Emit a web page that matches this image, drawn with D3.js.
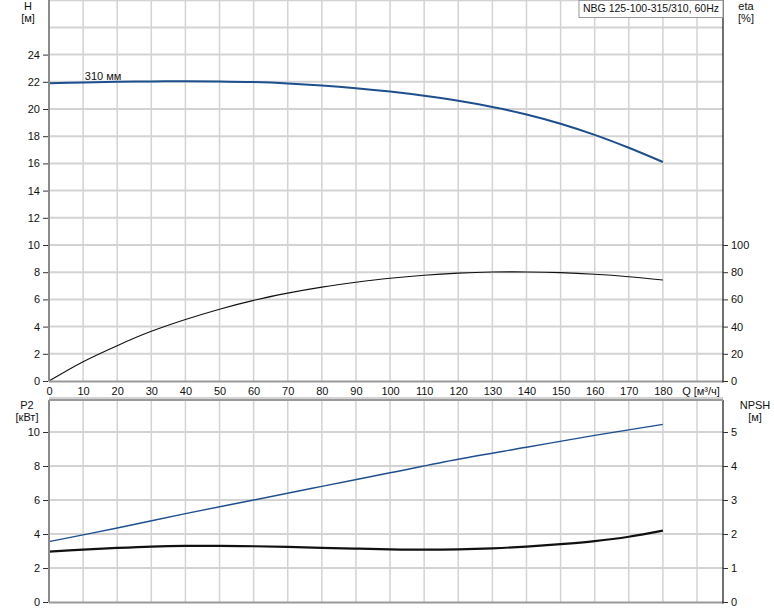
<!DOCTYPE html>
<html><head><meta charset="utf-8">
<script src="https://cdn.jsdelivr.net/npm/d3@7"></script>
<style>
html,body{margin:0;padding:0;background:#fff;}
svg text{font-family:"Liberation Sans",Arial,sans-serif;font-size:11px;fill:#111;}
</style></head>
<body><svg id="c" width="774" height="611"></svg>
<script>
// ---- data ----
const qTicks = [0,10,20,30,40,50,60,70,80,90,100,110,120,130,140,150,160,170,180];
const headQ = [0,10,20,30,40,50,60,70,80,90,100,110,120,130,140,150,160,170,180];
const headH = [21.9,21.95,22.0,22.03,22.04,22.03,21.98,21.88,21.73,21.53,21.28,20.97,20.6,20.15,19.6,18.92,18.1,17.15,16.1];
const etaQ = [0,10,20,30,40,50,60,70,80,90,100,110,120,130,140,150,160,170,180];
const etaV = [0,14.2,26.0,36.5,45.2,52.8,59.3,64.6,69.0,72.6,75.6,77.8,79.3,80.1,80.2,79.7,78.5,76.7,74.3];
const p2Q = [0,20,40,60,80,100,120,140,160,180];
const p2V = [3.55,4.35,5.2,6.0,6.8,7.6,8.4,9.1,9.8,10.45];
const npshQ = [0,10,20,30,40,50,60,70,80,90,100,110,120,130,140,150,160,170,180];
const npshV = [1.48,1.54,1.59,1.63,1.65,1.65,1.64,1.62,1.59,1.57,1.55,1.54,1.55,1.58,1.63,1.70,1.79,1.92,2.1];
const hTicks = [0,2,4,6,8,10,12,14,16,18,20,22,24];
const etaTicks = [0,20,40,60,80,100];
const p2Ticks = [0,2,4,6,8,10];
const npshTicks = [0,1,2,3,4,5];
const title = "NBG 125-100-315/310, 60Hz";
const curveLabel = "310 мм";

const svg = d3.select("#c");
const L = 49, R = 723;
const x = d3.scaleLinear().domain([0,190]).range([L,697]);
// top chart
const yH = d3.scaleLinear().domain([0,28]).range([381,0.2]);
const yEta = d3.scaleLinear().domain([0,280]).range([381,0.2]);
// bottom chart
const yP = d3.scaleLinear().domain([0,12]).range([602,398]);
const yN = d3.scaleLinear().domain([0,6]).range([602,398]);

const gridC = "#d3d3d3";
function grid(yScale, vals, y0, y1){
  const g = svg.append("g");
  g.selectAll("line.v").data(d3.range(10,200,10)).join("line")
    .attr("x1",d=>x(d)).attr("x2",d=>x(d)).attr("y1",y0).attr("y2",y1)
    .attr("stroke",gridC).attr("stroke-width",1.5);
  g.selectAll("line.h").data(vals).join("line")
    .attr("x1",L).attr("x2",R).attr("y1",d=>yScale(d)).attr("y2",d=>yScale(d))
    .attr("stroke",gridC).attr("stroke-width",2);
}
grid(yH, d3.range(2,29,2), 0, 381);
grid(yP, d3.range(2,13,2), 399, 602);

// curves
const line = (xs, ys, yS) => d3.line().curve(d3.curveCatmullRom.alpha(0.5))(xs.map((q,i)=>[x(q), yS(ys[i])]));
svg.append("path").attr("d", line(headQ, headH, yH)).attr("fill","none").attr("stroke","#1d4f8e").attr("stroke-width",2);
svg.append("path").attr("d", line(etaQ, etaV, yEta)).attr("fill","none").attr("stroke","#111").attr("stroke-width",1.1);
svg.append("path").attr("d", line(p2Q, p2V, yP)).attr("fill","none").attr("stroke","#1d4f8e").attr("stroke-width",1.4);
svg.append("path").attr("d", line(npshQ, npshV, yN)).attr("fill","none").attr("stroke","#111").attr("stroke-width",2.2);

// axes frames
function frame(y0, y1){
  svg.append("line").attr("x1",L).attr("x2",L).attr("y1",y0).attr("y2",y1).attr("stroke","#8a8a8a").attr("stroke-width",2);
  svg.append("line").attr("x1",L).attr("x2",R).attr("y1",y1).attr("y2",y1).attr("stroke","#9a9a9a").attr("stroke-width",2);
  svg.append("line").attr("x1",R).attr("x2",R).attr("y1",y0).attr("y2",y1+1).attr("stroke","#111").attr("stroke-width",1.2);
}
frame(0, 381.5);
frame(400, 602.5);
svg.append("line").attr("x1",L).attr("x2",R).attr("y1",400).attr("y2",400).attr("stroke","#9a9a9a").attr("stroke-width",2);

// axes
const fmt = d3.format("d");
const axL1 = d3.axisLeft(yH).tickValues(hTicks).tickFormat(fmt).tickSize(5).tickPadding(3);
const gL1 = svg.append("g").attr("transform",`translate(${L-1},0)`).call(axL1);
const axL2 = d3.axisLeft(yP).tickValues(p2Ticks).tickFormat(fmt).tickSize(5).tickPadding(3);
const gL2 = svg.append("g").attr("transform",`translate(${L-1},0)`).call(axL2);
const axR1 = d3.axisRight(yEta).tickValues(etaTicks).tickFormat(fmt).tickSize(5).tickPadding(3);
const gR1 = svg.append("g").attr("transform",`translate(${R},0)`).call(axR1);
const axR2 = d3.axisRight(yN).tickValues(npshTicks).tickFormat(fmt).tickSize(5).tickPadding(3);
const gR2 = svg.append("g").attr("transform",`translate(${R},0)`).call(axR2);
const axB = d3.axisBottom(x).tickValues(qTicks).tickFormat(fmt).tickSize(0).tickPadding(5);
const gB = svg.append("g").attr("transform",`translate(0,382)`).call(axB);
[gL1,gL2,gR1,gR2,gB].forEach(g=>{
  g.select(".domain").remove();
  g.selectAll(".tick line").attr("stroke","#333");
  g.selectAll(".tick text").style("font-size","11px").attr("fill","#111").style("font-family","'Liberation Sans',Arial,sans-serif");
});
svg.append("text").attr("x",x(190)+4).attr("y",395).attr("text-anchor","middle").text("Q [м³/ч]");

// axis titles
function ttl(tx, ty, t){ svg.append("text").attr("x",tx).attr("y",ty).attr("text-anchor","middle").text(t); }
ttl(28, 10, "H"); ttl(28, 22, "[м]");
ttl(746, 10, "eta"); ttl(746, 22, "[%]");
ttl(27, 409, "P2"); ttl(27, 421, "[кВт]");
ttl(755, 409, "NPSH"); ttl(755, 421, "[м]");

// title box
const tb = svg.append("g");
const tt = tb.append("text").attr("x",R-4).attr("y",12).attr("text-anchor","end").style("font-size","10.5px").text(title);
const bb = tt.node().getBBox();
tb.insert("rect","text").attr("x",bb.x-4).attr("y",0.5).attr("width",R-(bb.x-4)).attr("height",17)
  .attr("fill","#fff").attr("stroke","#999").attr("stroke-width",1);

// curve label
svg.append("text").attr("x",x(10.5)).attr("y",80).text(curveLabel);
</script></body></html>
